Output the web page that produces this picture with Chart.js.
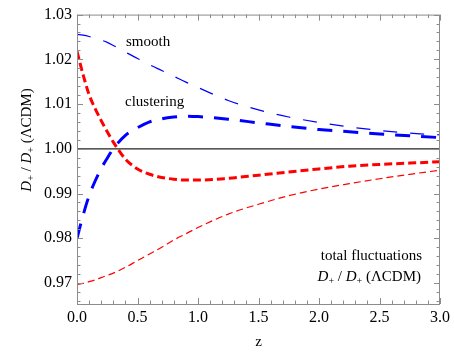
<!DOCTYPE html>
<html>
<head>
<meta charset="utf-8">
<script src="https://cdn.jsdelivr.net/npm/chart.js@4/dist/chart.umd.min.js"></script>
<style>
  html, body { margin: 0; padding: 0; background: #fff; }
  #wrap { width: 454px; height: 356px; }
</style>
</head>
<body>
<div id="wrap"><canvas id="growthChart"></canvas></div>
<script>
// ========== 데이터 ==========
const zValues = [0, 0.05, 0.1, 0.15, 0.2, 0.25, 0.3, 0.4, 0.5, 0.6, 0.7, 0.8, 0.9, 1.0,
                 1.25, 1.5, 1.75, 2.0, 2.25, 2.5, 2.75, 3.0];

// smooth (thin blue)
const smoothVals = [1.0256, 1.0254, 1.0251, 1.0247, 1.0243, 1.0238, 1.0231, 1.0216, 1.0202, 1.0188, 1.0175,
                    1.0162, 1.0149, 1.0137, 1.0108, 1.0087, 1.0071, 1.0059, 1.0049, 1.0041, 1.0035, 1.0031];
// clustering (thick blue)
const clusteringVals = [0.9800, 0.9851, 0.9895, 0.9928, 0.9956, 0.9979, 1.0000, 1.0030, 1.0047, 1.0060, 1.0067,
                        1.0071, 1.0073, 1.0072, 1.0066, 1.0058, 1.0050, 1.0043, 1.0038, 1.0033, 1.0029, 1.0025];
// total fluctuations, thick red
const totalThickVals = [1.0218, 1.0166, 1.0121, 1.0090, 1.0063, 1.0038, 1.0015, 0.9977, 0.9955, 0.9943, 0.9936,
                        0.9932, 0.9930, 0.9930, 0.9934, 0.9941, 0.9948, 0.9955, 0.9961, 0.9965, 0.9968, 0.9971];
// total fluctuations, thin red
const totalThinVals = [0.9697, 0.9699, 0.9703, 0.9707, 0.9712, 0.9717, 0.9722, 0.9735, 0.9750, 0.9765, 0.9780,
                       0.9796, 0.9810, 0.9824, 0.9854, 0.9876, 0.9895, 0.9910, 0.9922, 0.9933, 0.9943, 0.9952];

// reference line D+/D+ = 1
const refZ = [0, 3];
const refVals = [1.0, 1.0];

const xTicks = [0, 0.5, 1.0, 1.5, 2.0, 2.5, 3.0];
const yTicks = [0.97, 0.98, 0.99, 1.00, 1.01, 1.02, 1.03];

const SERIF = "'Liberation Serif', 'Times New Roman', Times, serif";

function toPoints(xs, ys) {
    return xs.map((x, i) => ({ x: x, y: ys[i] }));
}

/**
 * 혼합 스타일 텍스트 (이탤릭 D, 아래첨자 +)
 */
function drawRich(ctx, parts, x, y, align) {
    let total = 0;
    parts.forEach(p => {
        ctx.font = fontFor(p);
        total += ctx.measureText(p.t).width;
    });
    let cx = align === 'right' ? x - total : (align === 'center' ? x - total / 2 : x);
    parts.forEach(p => {
        ctx.font = fontFor(p);
        ctx.fillText(p.t, cx, y + (p.sub ? 4 : 0));
        cx += ctx.measureText(p.t).width;
    });
}
function fontFor(p) {
    if (p.sub) return '10px ' + SERIF;
    return (p.italic ? 'italic ' : '') + '15px ' + SERIF;
}
const ratioLabel = [
    { t: 'D', italic: true }, { t: '+', sub: true }, { t: ' / ' },
    { t: 'D', italic: true }, { t: '+', sub: true }, { t: ' (ΛCDM)' }
];

// 프레임 + 안쪽 눈금 + 라벨
const framePlugin = {
    id: 'frame',
    afterDraw(chart) {
        const { ctx, chartArea: a, scales } = chart;
        const xs = scales.x, ys = scales.y;
        ctx.save();
        ctx.strokeStyle = '#8c8c8c';
        ctx.lineWidth = 1;
        ctx.strokeRect(a.left + 0.5, a.top + 0.5, a.right - a.left - 1, a.bottom - a.top);

        ctx.beginPath();
        for (let i = 0; i <= 30; i++) {
            const v = i / 10;
            const px = Math.round(xs.getPixelForValue(v)) + 0.5;
            const len = (i % 5 === 0) ? 6 : 3.5;
            ctx.moveTo(px, a.bottom); ctx.lineTo(px, a.bottom - len);
            ctx.moveTo(px, a.top); ctx.lineTo(px, a.top + len);
        }
        for (let i = 0; i <= 32; i++) {
            const v = 0.966 + i * 0.002;
            const py = Math.round(ys.getPixelForValue(v)) + 0.5;
            const major = Math.abs(Math.round(v * 100) - v * 100) < 1e-6;
            const len = major ? 6 : 3.5;
            ctx.moveTo(a.left, py); ctx.lineTo(a.left + len, py);
            ctx.moveTo(a.right, py); ctx.lineTo(a.right - len, py);
        }
        ctx.stroke();

        ctx.fillStyle = '#000';
        ctx.textBaseline = 'middle';
        ctx.textAlign = 'left';
        ctx.font = '15px ' + SERIF;
        ctx.fillText('smooth', 126, 42);
        ctx.fillText('clustering', 125, 102);
        ctx.textAlign = 'right';
        ctx.fillText('total fluctuations', 422, 256);
        ctx.textAlign = 'left';
        drawRich(ctx, ratioLabel, 421, 277, 'right');

        ctx.textAlign = 'center';
        ctx.font = '15px ' + SERIF;
        ctx.fillText('z', (a.left + a.right) / 2, 342);

        ctx.translate(27, 140);
        ctx.rotate(-Math.PI / 2);
        ctx.textAlign = 'left';
        drawRich(ctx, ratioLabel, 0, 0, 'center');
        ctx.restore();
    }
};

// ========== 차트 ==========
let chart;
function initChart() {
    const ctx = document.getElementById('growthChart').getContext('2d');
    chart = new Chart(ctx, {
        type: 'line',
        data: {
            datasets: [
                {
                    label: 'ΛCDM',
                    data: toPoints(refZ, refVals),
                    borderColor: '#222',
                    borderWidth: 1.3
                },
                {
                    label: 'total (thin)',
                    data: toPoints(zValues, totalThinVals),
                    borderColor: 'rgb(255, 0, 0)',
                    borderWidth: 1.2,
                    borderDash: [7, 4]
                },
                {
                    label: 'smooth',
                    data: toPoints(zValues, smoothVals),
                    borderColor: 'rgb(0, 0, 255)',
                    borderWidth: 1.2,
                    borderDash: [14, 13]
                },
                {
                    label: 'clustering',
                    data: toPoints(zValues, clusteringVals),
                    borderColor: 'rgb(0, 0, 255)',
                    borderWidth: 3,
                    borderDash: [15, 11]
                },
                {
                    label: 'total (thick)',
                    data: toPoints(zValues, totalThickVals),
                    borderColor: 'rgb(255, 0, 0)',
                    borderWidth: 3,
                    borderDash: [8, 4]
                }
            ]
        },
        options: {
            responsive: true,
            maintainAspectRatio: false,
            animation: false,
            events: [],
            elements: {
                point: { radius: 0 },
                line: { cubicInterpolationMode: 'monotone', borderCapStyle: 'butt' }
            },
            layout: { padding: { top: 13, right: 13, left: 0, bottom: 0 } },
            plugins: {
                legend: { display: false },
                tooltip: { enabled: false }
            },
            scales: {
                x: {
                    type: 'linear',
                    min: 0,
                    max: 3,
                    afterFit: s => { s.height = 52; },
                    afterBuildTicks: s => { s.ticks = xTicks.map(v => ({ value: v })); },
                    grid: { display: false, drawTicks: false },
                    border: { display: false },
                    ticks: {
                        padding: 4,
                        color: '#000',
                        font: { family: SERIF, size: 16 },
                        maxRotation: 0,
                        callback: v => Number(v).toFixed(1)
                    }
                },
                y: {
                    type: 'linear',
                    min: 0.9653,
                    max: 1.03,
                    afterFit: s => { s.width = 77; },
                    afterBuildTicks: s => { s.ticks = yTicks.map(v => ({ value: v })); },
                    grid: { display: false, drawTicks: false },
                    border: { display: false },
                    ticks: {
                        padding: 5,
                        color: '#000',
                        font: { family: SERIF, size: 16 },
                        callback: v => Number(v).toFixed(2)
                    }
                }
            }
        },
        plugins: [framePlugin]
    });
}

initChart();
</script>
</body>
</html>
